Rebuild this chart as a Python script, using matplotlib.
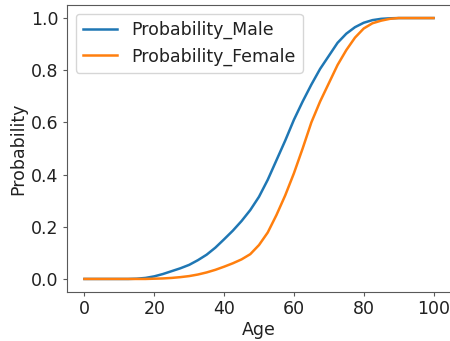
import matplotlib
matplotlib.use('Agg')
import matplotlib.pyplot as plt

# ages and probabilities
ages = [0, 2.5, 5, 7.5, 10, 12.5, 15, 17.5, 20, 22.5, 25, 27.5, 30, 32.5, 35, 37.5,
        40, 42.5, 45, 47.5, 50, 52.5, 55, 57.5, 60, 62.5, 65, 67.5, 70, 72.5, 75,
        77.5, 80, 82.5, 85, 87.5, 90, 95, 100]
probMale = [0.0, 0.0, 0.0, 0.0, 0.0, 0.0, 0.001, 0.004, 0.01, 0.019, 0.03, 0.041,
            0.054, 0.072, 0.093, 0.12, 0.152, 0.185, 0.222, 0.264, 0.315, 0.38,
            0.455, 0.53, 0.61, 0.68, 0.745, 0.805, 0.855, 0.905, 0.94, 0.965,
            0.982, 0.992, 0.997, 0.999, 1.0, 1.0, 1.0]
probFemale = [0.0, 0.0, 0.0, 0.0, 0.0, 0.0, 0.0, 0.0, 0.001, 0.002, 0.004, 0.007,
              0.011, 0.017, 0.025, 0.035, 0.047, 0.06, 0.075, 0.095, 0.13, 0.178,
              0.245, 0.32, 0.405, 0.5, 0.6, 0.68, 0.75, 0.82, 0.877, 0.925,
              0.96, 0.98, 0.99, 0.997, 1.0, 1.0, 1.0]

plt.rcParams['font.size'] = 12.5
plt.rcParams['text.color'] = '0.13'
plt.rcParams['axes.labelcolor'] = '0.13'
plt.rcParams['xtick.color'] = '0.13'
plt.rcParams['ytick.color'] = '0.13'

fig = plt.figure(figsize=(4.5, 3.41), dpi=100)
ax = fig.add_axes([67 / 450, 49 / 341, 384 / 450, 287 / 341])

ax.plot(ages, probMale, label='Probability_Male', linewidth=1.8)
ax.plot(ages, probFemale, label='Probability_Female', linewidth=1.8)
ax.set_xlabel('Age', labelpad=2)
ax.set_ylabel('Probability', labelpad=3)
ax.tick_params(length=3, pad=3, color='0.35')
for sp in ax.spines.values():
    sp.set_color('0.35')
ax.legend(loc='upper left')

fig.savefig('out.png', dpi=100)
